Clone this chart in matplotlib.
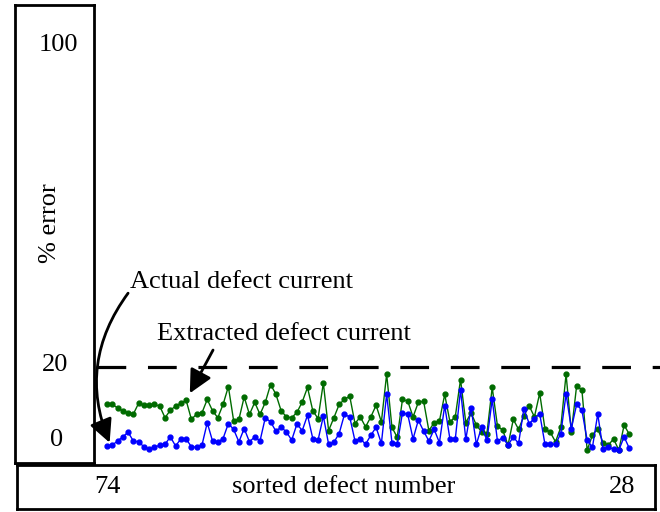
import matplotlib
matplotlib.use('Agg')
import matplotlib.pyplot as plt
import numpy as np

# % error per sorted defect
actual = [1.0, 1.2, 2.2, 3.2, 4.3, 2.2, 2.0, 0.8, 0.2, 0.7,
          1.2, 1.4, 3.2, 1.0, 2.7, 2.7, 0.8, 0.7, 1.2, 6.6,
          2.2, 1.9, 2.8, 6.4, 5.0, 2.0, 5.2, 2.0, 3.2, 2.2,
          7.8, 6.8, 4.6, 5.5, 4.4, 2.4, 6.3, 4.7, 8.4, 2.8,
          2.4, 8.2, 1.4, 1.9, 4.0, 8.6, 8.0, 2.2, 2.8, 1.4,
          3.6, 5.5, 1.6, 13.5, 1.8, 1.4, 9.0, 8.6, 2.7, 7.2,
          4.6, 2.2, 5.0, 1.8, 10.7, 2.6, 2.6, 14.5, 2.6, 10.2,
          1.4, 5.6, 2.4, 12.2, 2.2, 3.0, 1.2, 3.2, 1.6, 10.0,
          6.4, 7.6, 8.8, 1.4, 1.4, 1.4, 4.0, 13.5, 5.2, 11.0,
          9.6, 2.4, 0.7, 8.7, 0.2, 0.8, 0.2, 0.0, 3.2, 0.4]
extracted = [11.0, 11.0, 10.2, 9.4, 9.0, 8.7, 11.3, 10.8, 10.8, 11.0,
             10.6, 7.8, 9.6, 10.6, 11.3, 12.0, 7.4, 8.7, 9.0, 12.2,
             9.5, 7.8, 11.0, 15.3, 7.1, 7.4, 12.8, 8.6, 11.5, 8.6,
             11.5, 15.8, 13.5, 9.5, 8.0, 7.8, 9.1, 11.6, 15.1, 9.5,
             7.6, 16.2, 4.7, 7.8, 11.0, 12.2, 13.0, 6.4, 8.0, 5.6,
             8.0, 10.8, 6.8, 18.3, 5.5, 3.1, 12.2, 11.8, 8.0, 11.5,
             11.8, 4.7, 6.6, 7.0, 13.4, 6.8, 8.0, 17.0, 6.6, 9.0,
             6.0, 4.4, 4.0, 15.1, 5.8, 4.8, 1.2, 7.4, 5.0, 8.2,
             10.7, 8.0, 13.7, 5.1, 4.3, 2.0, 5.5, 18.3, 4.4, 15.5,
             14.5, 0.0, 3.6, 5.2, 1.8, 1.2, 2.7, 0.0, 6.0, 3.8]
threshold = 20
y_labels = ['100', '20', '0']
x_labels = ['74', '28']

W, H = 660, 512
FS = 19
plt.rcParams['font.family'] = ['Liberation Serif', 'DejaVu Serif']
fig = plt.figure(figsize=(W / 100, H / 100), dpi=100)

def box(x0, y0, x1, y1):
    # axes placed in pixel coords (top-left origin)
    return [x0 / W, 1 - y1 / H, (x1 - x0) / W, (y1 - y0) / H]

def ftext(x, y, s, **kw):
    fig.text(x / W, 1 - y / H, s, ha='center', va='center', fontsize=FS, **kw)

# main plot area
ax = fig.add_axes(box(94, 5, 660, 463))
idx = np.arange(1, len(actual) + 1)
ax.plot(idx, extracted, '-o', color='#006b00', lw=1, ms=3.5)
ax.plot(idx, actual, '-o', color='#0000ff', lw=1, ms=3.5)
ax.axhline(threshold, xmin=0.005, color='black', lw=2.3, dashes=(9, 6.8))
ax.set_xlim(-1.46, 105.8)
ax.set_ylim(-3.1, 107.2)
ax.axis('off')

ax.text(5.4, 40.5, 'Actual defect current', fontsize=FS, va='center')
ax.text(10.5, 28.0, 'Extracted defect current', fontsize=FS, va='center')
ax.annotate('', xy=(1.5, 1.8), xytext=(5.0, 37.8),
            arrowprops=dict(arrowstyle='-|>', mutation_scale=35, lw=2,
                            color='black', shrinkA=0, shrinkB=0,
                            connectionstyle='arc3,rad=0.28'))
ax.annotate('', xy=(16.7, 13.7), xytext=(21.1, 24.1),
            arrowprops=dict(arrowstyle='-|>', mutation_scale=35, lw=2,
                            color='black', shrinkA=0, shrinkB=0))

# left frame with y labels
lax = fig.add_axes(box(15, 5, 94, 463))
lax.set_xticks([])
lax.set_yticks([])
for s in lax.spines.values():
    s.set_linewidth(2)
lax.patch.set_alpha(0)

# bottom frame with x labels
bax = fig.add_axes(box(17, 465, 655, 509))
bax.set_xticks([])
bax.set_yticks([])
for s in bax.spines.values():
    s.set_linewidth(2)
bax.patch.set_alpha(0)

ftext(58, 45, y_labels[0])
ftext(55, 365, y_labels[1])
ftext(57, 440, y_labels[2])
ftext(50, 223, '% error', rotation=90)
ftext(107, 487, x_labels[0])
ftext(344, 487, 'sorted defect number')
ftext(622, 487, x_labels[1])

fig.savefig('out.png', dpi=100)
